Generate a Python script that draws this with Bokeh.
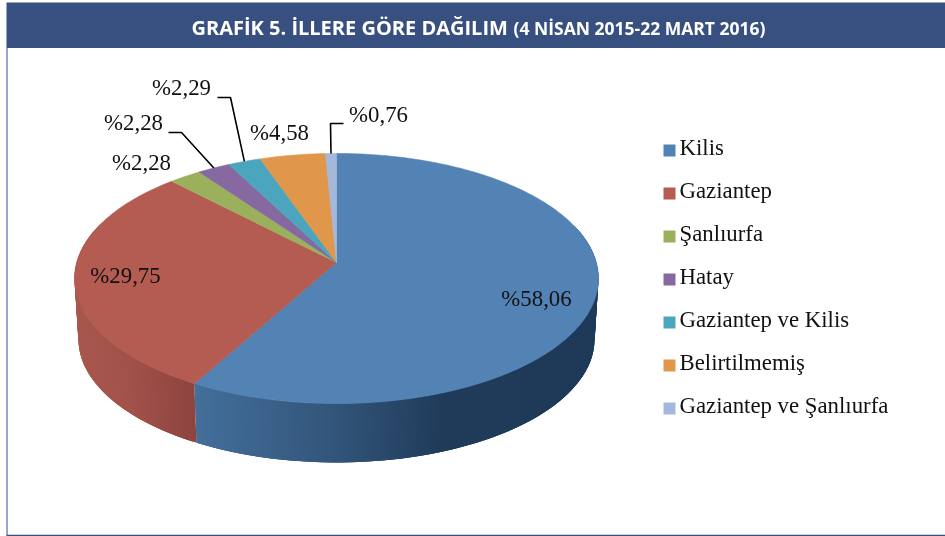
import math
from bokeh.plotting import figure
from bokeh.models import Range1d
from bokeh.core.properties import value
from bokeh.embed import file_html
from bokeh.resources import INLINE

categories = ["Kilis", "Gaziantep", "Şanlıurfa", "Hatay", "Gaziantep ve Kilis", "Belirtilmemiş", "Gaziantep ve Şanlıurfa"]
shares = [58.06, 29.75, 2.28, 2.28, 2.29, 4.58, 0.76]
colors = ["#5383B5", "#B45B52", "#9BB05D", "#8569A0", "#4BA6BD", "#E0964B", "#A3B8DB"]
title_main = "GRAFİK 5. İLLERE GÖRE DAĞILIM"
title_sub = "(4 NİSAN 2015-22 MART 2016)"

# layout
W, H = 945, 536
SERIF = "Liberation Serif"
SERIF_SIZE = "22.8px"
CX, CY, A, B, K = 336.0, 262.0, 259.8, 123.0, 0.128   # projected top face
BASE_CY, BASE_SCALE = 323.0, 0.985                     # projected base
label_pos = [(536, 298), (125, 275), (141, 162), (133, 122), (181, 87), (279, 132), (378, 114)]
elbows = {3: [(168, 132), (181, 132)], 4: [(217, 97), (230, 97)], 6: [(343, 123), (330, 123)]}
legend_x, legend_y0, legend_dy, sw = 663, 150, 43, 12
blue_side = [(190, "#44709C"), (330, "#33567B"), (445, "#203B5A"), (600, "#1F3A58")]
red_side = [(70, "#A9584F"), (125, "#A3524A"), (196, "#8D443F")]


def project(pct, cy=CY, s=1.0):
    t = 2 * math.pi * pct / 100
    u, v = math.sin(t), math.cos(t)
    d = 1 + K * v
    return CX + s * A * u / d, cy - s * B * v / d


def ramp(x, stops):
    if x <= stops[0][0]:
        return stops[0][1]
    for (x0, c0), (x1, c1) in zip(stops, stops[1:]):
        if x <= x1:
            f = (x - x0) / (x1 - x0)
            rgb = [round(int(c0[i:i + 2], 16) * (1 - f) + int(c1[i:i + 2], 16) * f) for i in (1, 3, 5)]
            return "#%02X%02X%02X" % tuple(rgb)
    return stops[-1][1]


p = figure(width=W, height=H, output_backend="svg", toolbar_location=None,
           x_range=Range1d(0, W), y_range=Range1d(H, 0), min_border=0,
           outline_line_color=None, background_fill_color="white")
p.xaxis.visible = False
p.yaxis.visible = False
p.grid.visible = False
p.styles = {"position": "fixed", "left": "0", "top": "0"}

# frame
p.quad(left=[6], right=[W], top=[2], bottom=[47.5], fill_color="#385080", line_color=None)
p.segment(x0=[6.5], y0=[47], x1=[6.5], y1=[535], line_color="#4A6DA5", line_width=1.2)
p.segment(x0=[6], y0=[535], x1=[W], y1=[535], line_color="#385080", line_width=1.5)
p.text(x=[191], y=[27], text=[title_main], text_font=value("Open Sans"), text_font_size="20px",
       text_font_style="bold", text_color="white", text_baseline="middle", text_align="left")
p.text(x=[513], y=[27.5], text=[title_sub], text_font=value("Open Sans"), text_font_size="17.5px",
       text_font_style="bold", text_color="white", text_baseline="middle", text_align="left")

# side wall of the front slices
starts = [sum(shares[:i]) for i in range(len(shares))]
sx, sy, sc = [], [], []
n = 260
first, last = 20.0, 80.0
step = (last - first) / n
for i in range(n):
    a0 = first + step * i
    a1 = min(a0 + step * 3, shares[0]) if a0 < shares[0] else a0 + step * 3
    x0, y0 = project(a0)
    x1, y1 = project(a1)
    x2, y2 = project(a1, BASE_CY, BASE_SCALE)
    x3, y3 = project(a0, BASE_CY, BASE_SCALE)
    stops = blue_side if a0 < shares[0] else red_side
    sx.append([x0, x1, x2, x3])
    sy.append([y0, y1, y2, y3])
    sc.append(ramp(x0, stops))
p.patches(sx, sy, fill_color=sc, line_color=None)

# top face
for s, v, c in zip(starts, shares, colors):
    steps = max(4, int(v * 4))
    pts = [project(s + v * j / steps) for j in range(steps + 1)]
    p.patch([CX] + [q[0] for q in pts], [CY] + [q[1] for q in pts], fill_color=c, line_color=c, line_width=0.6)

# leaders
for i, el in elbows.items():
    tip = project(starts[i] + shares[i] / 2)
    p.line([q[0] for q in el] + [tip[0]], [q[1] for q in el] + [tip[1]], line_color="black", line_width=1.6)

# data labels
p.text(x=[q[0] for q in label_pos], y=[q[1] for q in label_pos],
       text=["%" + f"{v:.2f}".replace(".", ",") for v in shares],
       text_font=value(SERIF), text_font_size=SERIF_SIZE, text_color="#111111",
       text_align="center", text_baseline="middle")

# legend
ys = [legend_y0 + legend_dy * i for i in range(len(categories))]
p.quad(left=[legend_x] * len(ys), right=[legend_x + sw] * len(ys),
       top=[y - sw / 2 for y in ys], bottom=[y + sw / 2 for y in ys], fill_color=colors, line_color=None)
p.text(x=[legend_x + 16] * len(ys), y=[y - 3 for y in ys], text=categories, text_font=value(SERIF),
       text_font_size=SERIF_SIZE, text_color="#111111", text_align="left", text_baseline="middle")

open("out.html", "w").write(file_html(p, INLINE))
